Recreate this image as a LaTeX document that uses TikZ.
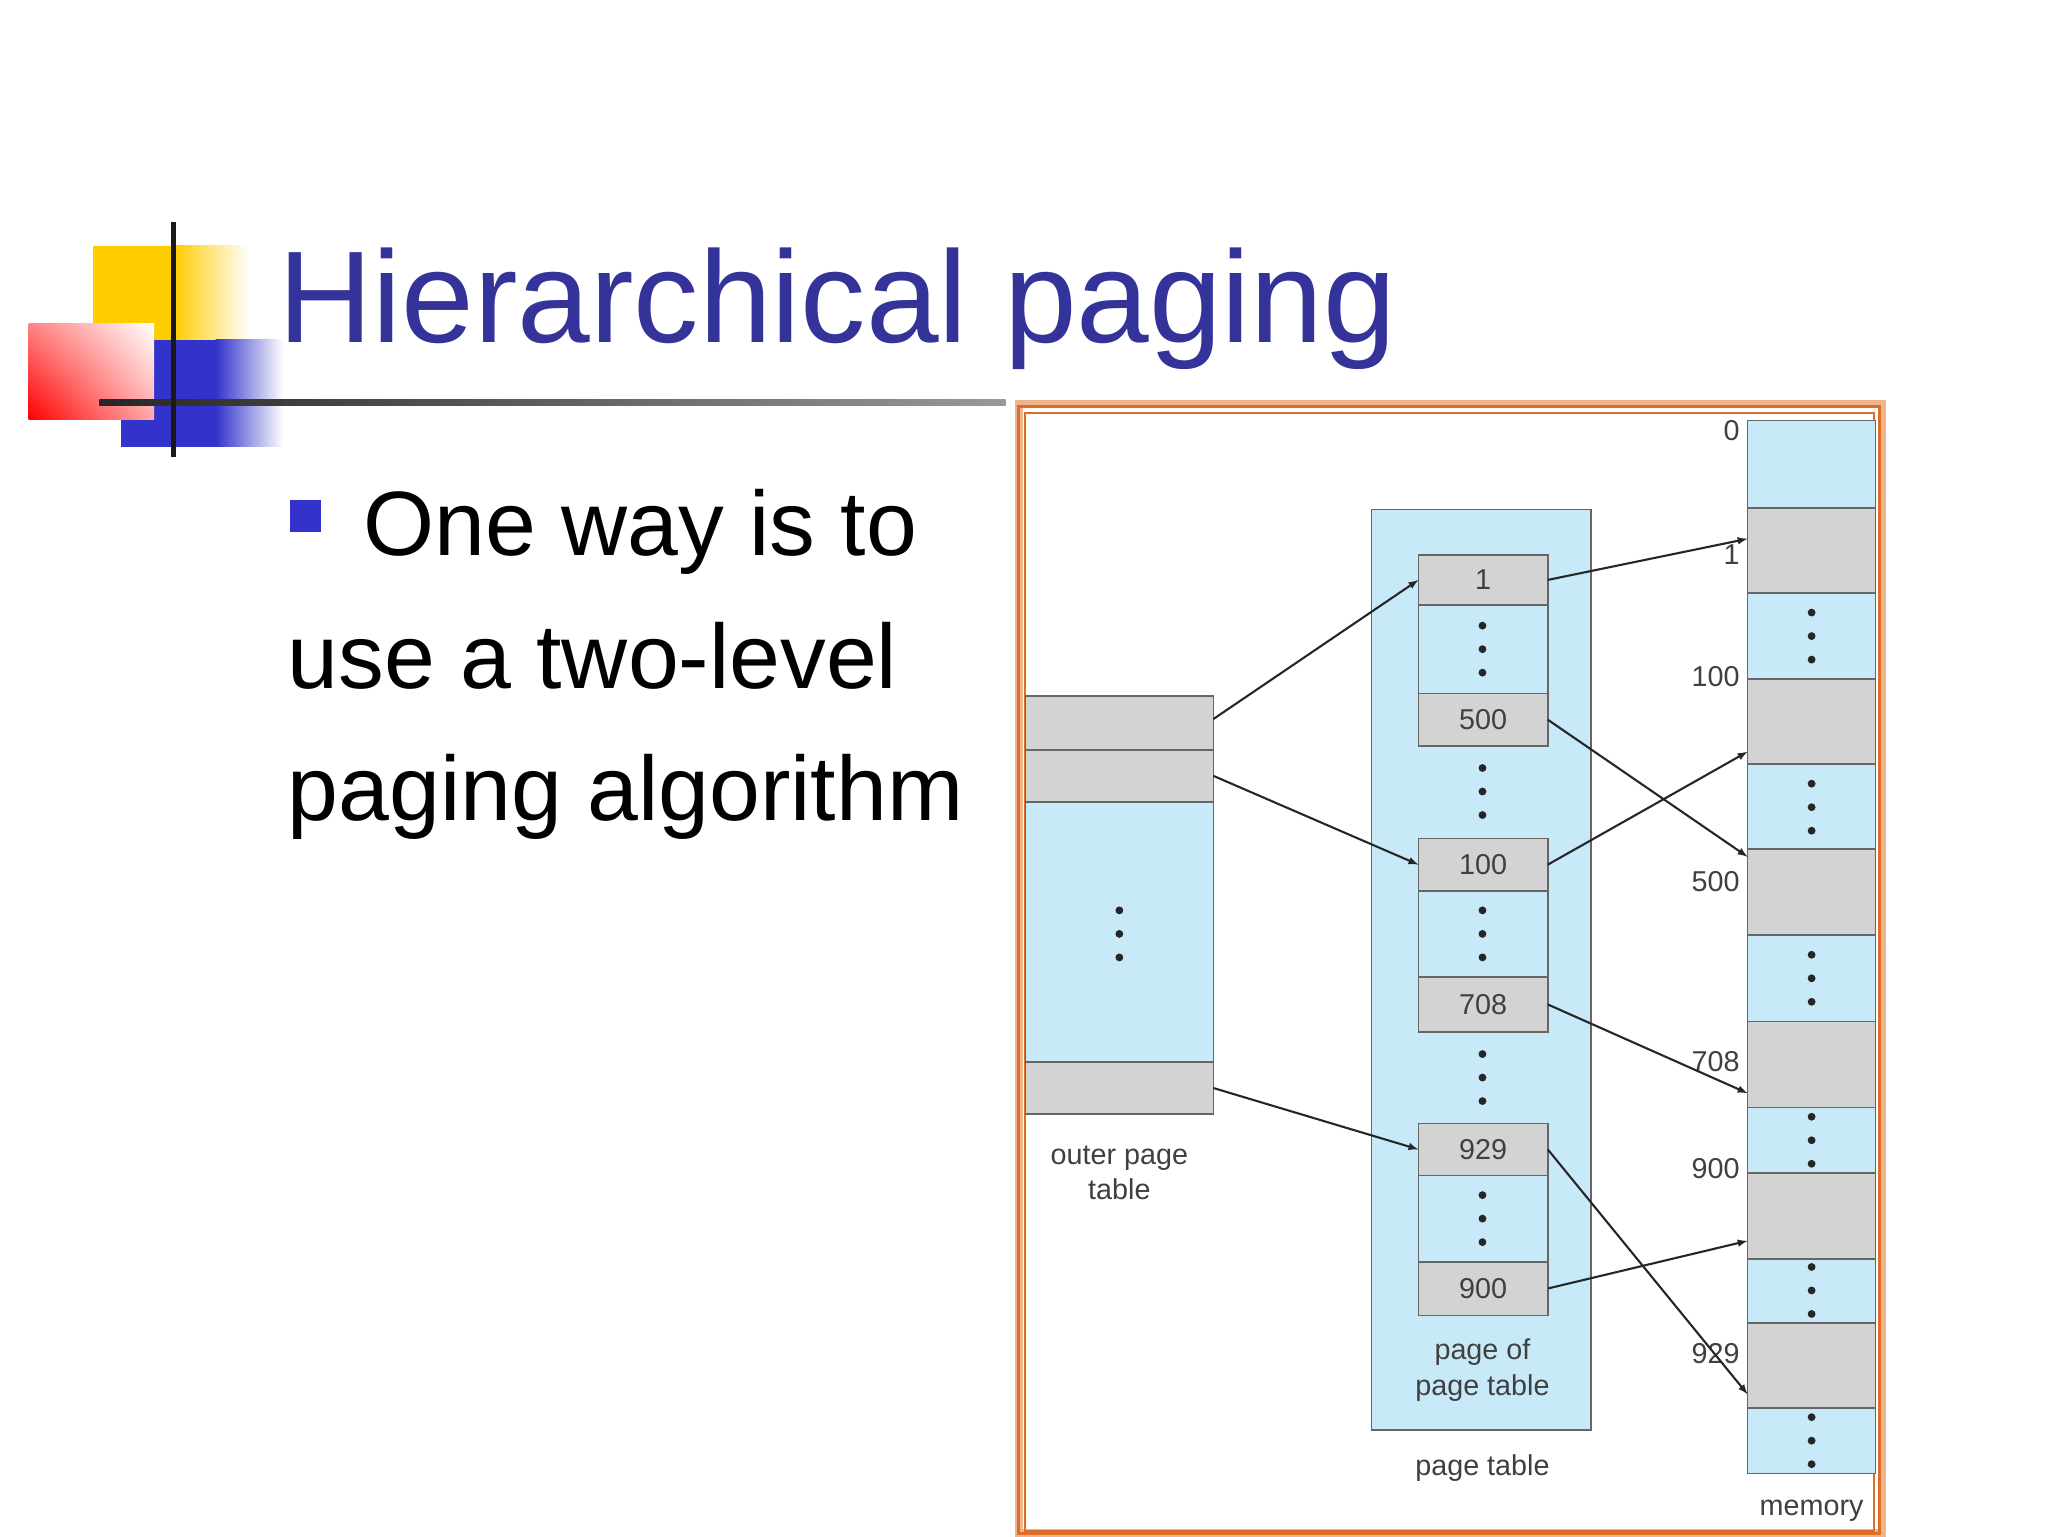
\documentclass[tikz,border=0pt]{standalone}
\usepackage{fontspec}
\usetikzlibrary{shadings}
\setmainfont{Liberation Sans}
\begin{document}
\begin{tikzpicture}[x=1pt,y=-1pt,
  gbox/.style={draw=gray!80!black,line width=1.2pt,fill=cgray,inner sep=0,outer sep=0,anchor=north west,font=\fontsize{22}{24}\selectfont,text=black!75},
  bbox/.style={draw=gray!80!black,line width=1.2pt,fill=cblue,inner sep=0,outer sep=0,anchor=north west},
  lbl/.style={font=\fontsize{22}{27}\selectfont,text=black!75,align=center,inner sep=0},
  arr/.style={-latex,line width=1.6pt,black!85},
  vd/.pic={\fill[black!85] (0,-18) circle[radius=3pt] (0,0) circle[radius=3pt] (0,18) circle[radius=3pt];}]
\definecolor{cgray}{RGB}{211,211,211}
\definecolor{cblue}{RGB}{200,234,248}
\definecolor{ttl}{RGB}{51,51,153}
\definecolor{blt}{RGB}{51,51,204}
\definecolor{yel}{RGB}{255,204,0}
\definecolor{rul}{RGB}{255,130,130}
\definecolor{rlr}{RGB}{255,170,170}
\definecolor{redd}{RGB}{255,0,0}
\definecolor{fro}{RGB}{240,180,140}
\definecolor{fri}{RGB}{220,110,40}
\useasboundingbox (0,0) rectangle (1568,1176);
\fill[white] (0,0) rectangle (1568,1176);
% logo
\fill[yel] (71,188) rectangle (133,262);
\shade[left color=yel,right color=white] (133,188) rectangle (191,262);
\fill[blt] (93,260) rectangle (165,342);
\shade[left color=blt,right color=white] (165,260) rectangle (217,342);
\shade[upper left=rul,upper right=white,lower left=redd,lower right=rlr] (22,248) rectangle (118,321);
\shade[left color=black!85,right color=black!40] (76,305.5) rectangle (770,310.5);
\draw[line width=4pt,black!90] (133,170) -- (133,350);
% title and text
\node[anchor=base west,inner sep=0,text=ttl,font=\fontsize{100}{110}\selectfont] (title) at (213,262) {Hierarchical paging};
\fill[blt] (222,383) rectangle (246,407);
\node[anchor=base west,inner sep=0,font=\fontsize{70}{80}\selectfont] (l1) at (278,425) {One way is to};
\node[anchor=base west,inner sep=0,font=\fontsize{70}{80}\selectfont] (l2) at (220,527) {use a two-level};
\node[anchor=base west,inner sep=0,font=\fontsize{70}{80}\selectfont] (l3) at (220,628) {paging algorithm};
% frame
\draw[line width=6pt,fro] (780,309) rectangle (1441,1174);
\draw[line width=2pt,fri] (780,311) rectangle (1439,1174);
\draw[line width=1.5pt,fri] (785,316) rectangle (1435,1172);
% outer page table
\node[gbox,minimum width=144,minimum height=41] (o1) at (785,533) {};
\node[gbox,minimum width=144,minimum height=40] (o2) at (785,574) {};
\node[bbox,minimum width=144,minimum height=199] (om) at (785,614) {};
\node[gbox,minimum width=144,minimum height=40] (o3) at (785,813) {};
\pic at (857,715) {vd};
\node[lbl] (olbl) at (857,898) {outer page\\table};
% page table
\node[bbox,minimum width=168,minimum height=705] (pt) at (1050,390) {};
\node[gbox,minimum width=99,minimum height=38] (b1) at (1086,425) {1};
\node[bbox,minimum width=99,minimum height=68] (d1) at (1086,463) {};
\node[gbox,minimum width=99,minimum height=40] (b500) at (1086,531) {500};
\node[gbox,minimum width=99,minimum height=40] (b100) at (1086,642) {100};
\node[bbox,minimum width=99,minimum height=66] (d2) at (1086,682) {};
\node[gbox,minimum width=99,minimum height=42] (b708) at (1086,748) {708};
\node[gbox,minimum width=99,minimum height=40] (b929) at (1086,860) {929};
\node[bbox,minimum width=99,minimum height=66] (d3) at (1086,900) {};
\node[gbox,minimum width=99,minimum height=41] (b900) at (1086,966) {900};
\pic at (1135,497) {vd};
\pic at (1135,606) {vd};
\pic at (1135,715) {vd};
\pic at (1135,825) {vd};
\pic at (1135,933) {vd};
\node[lbl] (plbl) at (1135,1049) {page of\\page table};
\node[lbl] (ptlbl) at (1135,1124) {page table};
% memory
\node[bbox,minimum width=98,minimum height=67] (m0) at (1338,322) {};
\node[gbox,minimum width=98,minimum height=65] (m1) at (1338,389) {};
\node[bbox,minimum width=98,minimum height=66] (m2) at (1338,454) {};
\node[gbox,minimum width=98,minimum height=65] (m100) at (1338,520) {};
\node[bbox,minimum width=98,minimum height=65] (m3) at (1338,585) {};
\node[gbox,minimum width=98,minimum height=66] (m500) at (1338,650) {};
\node[bbox,minimum width=98,minimum height=66] (m4) at (1338,716) {};
\node[gbox,minimum width=98,minimum height=66] (m708) at (1338,782) {};
\node[bbox,minimum width=98,minimum height=50] (m5) at (1338,848) {};
\node[gbox,minimum width=98,minimum height=66] (m900) at (1338,898) {};
\node[bbox,minimum width=98,minimum height=49] (m6) at (1338,964) {};
\node[gbox,minimum width=98,minimum height=65] (m929) at (1338,1013) {};
\node[bbox,minimum width=98,minimum height=50] (m7) at (1338,1078) {};
\foreach \y in {487,618,749,873,988,1103} \pic at (1387,\y) {vd};
\foreach \t/\y in {0/330,1/425,100/518,500/675,708/813,900/895,929/1036}
  \node[lbl,anchor=east] (a\t) at (1332,\y) {\t};
\node[lbl] (mlbl) at (1387,1157) {memory};
% arrows
\draw[arr] ([yshift=3]o1.east) -- (b1.west);
\draw[arr] (o2.east) -- (b100.west);
\draw[arr] (o3.east) -- (b929.west);
\draw[arr] (b1.east) -- ([yshift=9]m1.west);
\draw[arr] (b500.east) -- ([yshift=27]m500.west);
\draw[arr] (b100.east) -- ([yshift=-23]m100.west);
\draw[arr] (b708.east) -- ([yshift=-22]m708.west);
\draw[arr] (b929.east) -- ([yshift=-22]m929.west);
\draw[arr] (b900.east) -- ([yshift=-19]m900.west);
\end{tikzpicture}
\end{document}
